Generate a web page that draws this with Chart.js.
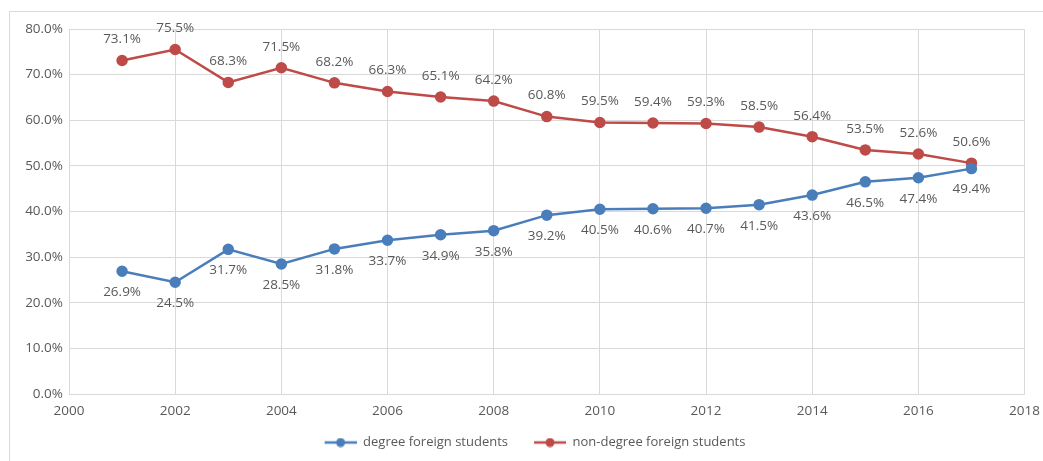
<!DOCTYPE html>
<html>
<head>
<meta charset="utf-8">
<script src="https://cdn.jsdelivr.net/npm/chart.js@4/dist/chart.umd.min.js"></script>
<style>
  body { margin: 0; background: #fff; overflow: hidden; }
  .frame { position: absolute; left: 9px; top: 11px; width: 1039px; height: 450px; border: 1px solid #d9d9d9; border-right: none; border-bottom: none; }
</style>
</head>
<body>
<div class="frame"><canvas id="myChart" width="1039" height="450"></canvas></div>
<script>
const years = [2001, 2002, 2003, 2004, 2005, 2006, 2007, 2008, 2009, 2010, 2011, 2012, 2013, 2014, 2015, 2016, 2017]
const degree = [26.9, 24.5, 31.7, 28.5, 31.8, 33.7, 34.9, 35.8, 39.2, 40.5, 40.6, 40.7, 41.5, 43.6, 46.5, 47.4, 49.4]
const nonDegree = [73.1, 75.5, 68.3, 71.5, 68.2, 66.3, 65.1, 64.2, 60.8, 59.5, 59.4, 59.3, 58.5, 56.4, 53.5, 52.6, 50.6]
const seriesNames = ['degree foreign students', 'non-degree foreign students']

const blue = '#4a7ebb'
const red = '#be4b48'
const textColor = '#595959'
const font = 'Open Sans'
const fontSize = 13.5

// line + dot swatch for the legend, with some empty room on its left
const swatch = (color) => {
  const c = document.createElement('canvas')
  c.width = 46; c.height = 10
  const g = c.getContext('2d')
  g.strokeStyle = color; g.lineWidth = 2.5
  g.beginPath(); g.moveTo(14, 5); g.lineTo(46, 5); g.stroke()
  g.fillStyle = color
  g.beginPath(); g.arc(30, 5, 4.5, 0, Math.PI * 2); g.fill()
  return c
}

// value labels: blue below the point, red above
const valueLabels = {
  id: 'valueLabels',
  afterDatasetsDraw(chart) {
    const ctx = chart.ctx
    ctx.save()
    ctx.font = fontSize + 'px "' + font + '"'
    ctx.fillStyle = textColor
    ctx.textAlign = 'center'
    ctx.textBaseline = 'middle'
    chart.data.datasets.forEach((ds, i) => {
      const meta = chart.getDatasetMeta(i)
      const off = i === 0 ? 21 : -21
      meta.data.forEach((pt, j) => {
        ctx.fillText(ds.data[j].y.toFixed(1) + '%', pt.x, pt.y + off)
      })
    })
    ctx.restore()
  }
}

const toPoints = (vals) => vals.map((v, i) => ({x: years[i], y: v}))

new Chart(document.getElementById('myChart').getContext('2d'), {
  type: 'line',
  data: {
    datasets: [
      {label: seriesNames[0], data: toPoints(degree), borderColor: blue, backgroundColor: blue, pointStyleImg: swatch(blue)},
      {label: seriesNames[1], data: toPoints(nonDegree), borderColor: red, backgroundColor: red, pointStyleImg: swatch(red)},
    ].map(d => ({...d, borderWidth: 2.5, pointRadius: 4.5, pointHoverRadius: 4.5, tension: 0, pointStyle: 'circle'})),
  },
  options: {
    responsive: false,
    animation: false,
    layout: {padding: {left: 0, right: 3, top: 17, bottom: 3}},
    plugins: {
      tooltip: {enabled: false},
      legend: {
        position: 'bottom',
        labels: {
          color: textColor,
          font: {family: font, size: 13},
          usePointStyle: true,
          pointStyleWidth: 46,
          padding: 12,
          generateLabels: (chart) => chart.data.datasets.map((d, i) => ({
            text: d.label, pointStyle: d.pointStyleImg, fontColor: textColor,
            strokeStyle: d.borderColor, fillStyle: d.borderColor, lineWidth: 0, datasetIndex: i,
          })),
        },
      },
    },
    scales: {
      x: {
        type: 'linear', min: 2000, max: 2018,
        ticks: {stepSize: 2, color: textColor, font: {family: font, size: fontSize}, padding: 9, callback: v => String(v)},
        grid: {color: '#d9d9d9', drawTicks: false},
        border: {color: '#d9d9d9'},
        afterFit: (s) => { s.height = 30 },
      },
      y: {
        min: 0, max: 80,
        ticks: {stepSize: 10, color: textColor, font: {family: font, size: fontSize}, padding: 6, callback: v => v.toFixed(1) + '%'},
        grid: {color: '#d9d9d9', drawTicks: false},
        border: {display: false},
        afterFit: (s) => { s.width = 59 },
      },
    },
  },
  plugins: [valueLabels],
})
</script>
</body>
</html>
